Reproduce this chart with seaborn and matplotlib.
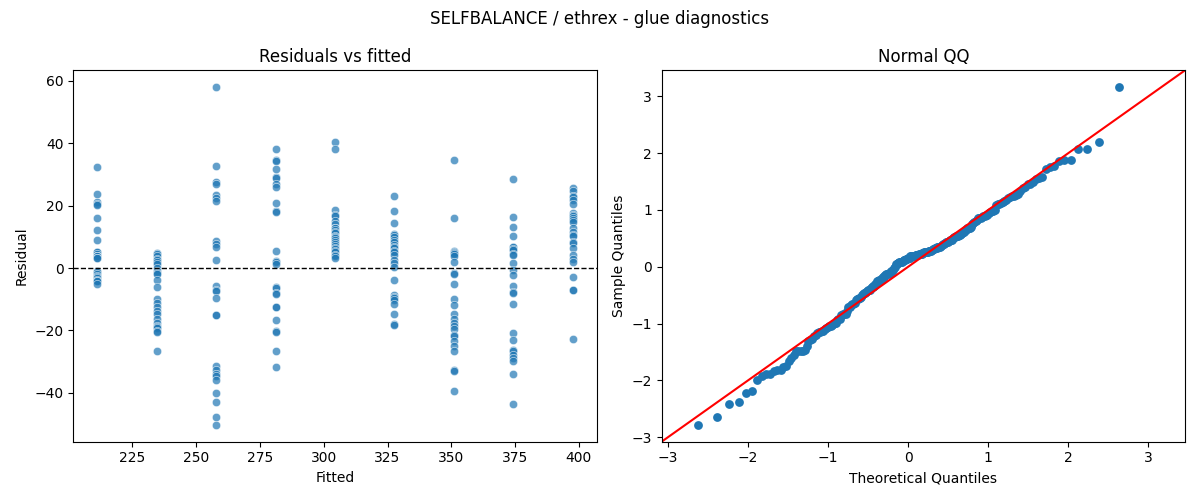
import statistics

import matplotlib
matplotlib.use("Agg")
import matplotlib.pyplot as plt
import numpy as np
import pandas as pd
import seaborn as sns

# fitted value of each level and the residuals
fitted_levels = [211.2, 234.5, 257.8, 281.1, 304.4, 327.7, 351.0, 374.3, 397.7]

res_g1 = [32.5, 23.7, 21.2, 20.4, 20.1, 16.0, 12.2, 9.0, 5.3, 5.0, 4.6, 4.0, 3.8, 3.7, 3.3,
          3.1, -1.0, -1.2, -1.9, -2.6, -2.9, -3.3, -3.8, -4.0, -4.3, -5.0]
res_g2 = [4.8, 4.6, 4.0, 3.0, 2.5, 2.0, 1.2, 0.1, -1.0, -1.7, -1.9, -3.7, -6.2, -9.9, -11.2,
          -12.5, -13.9, -14.6, -16.3, -17.6, -18.7, -18.9, -19.3, -20.3, -20.6, -26.6]
res_g3 = [58.0, 32.7, 27.5, 27.0, 23.5, 22.6, 21.6, 8.8, 7.7, 6.6, 2.6, -5.7, -7.2, -7.5,
          -9.6, -15.0, -15.2, -31.5, -32.8, -33.9, -34.7, -35.8, -40.1, -42.9, -47.8, -50.3]
res_g4 = [38.1, 34.7, 34.4, 31.7, 29.2, 28.8, 26.9, 25.9, 20.8, 18.3, 18.0, 5.4, 2.4, 2.0,
          1.4, -6.2, -6.4, -8.1, -8.4, -12.4, -12.6, -16.7, -20.3, -20.5, -26.6, -31.6]
res_g5 = [40.5, 38.1, 18.7, 17.0, 16.8, 15.2, 14.0, 13.0, 12.8, 12.3, 11.6, 11.2, 10.4,
          10.1, 9.6, 9.1, 8.2, 7.7, 7.2, 6.4, 6.1, 5.5, 5.0, 4.3, 4.0, 3.1]
res_g6 = [23.1, 18.3, 14.4, 11.0, 10.7, 10.1, 9.0, 8.5, 7.5, 6.9, 6.4, 5.6, 5.3, 4.3, 2.7,
          1.6, 0.3, -3.7, -8.8, -9.2, -9.6, -10.4, -11.5, -14.7, -18.1, -18.4]
res_g7 = [34.6, 16.0, 5.6, 5.3, 4.8, 4.5, 3.7, 1.9, -1.6, -1.9, -5.0, -9.8, -12.0, -14.7,
          -16.3, -17.6, -18.7, -19.6, -21.5, -21.8, -23.3, -25.1, -26.7, -32.6, -32.9, -39.3]
res_g8 = [28.6, 16.5, 13.1, 10.3, 6.9, 6.6, 6.1, 5.9, 4.6, 4.3, 1.6, -0.5, -2.1, -5.7, -7.8,
          -8.0, -11.5, -20.8, -23.2, -26.2, -26.5, -27.8, -28.8, -29.9, -34.0, -43.6]
res_g9 = [25.6, 24.6, 23.2, 22.9, 21.9, 20.6, 17.8, 17.1, 16.8, 16.0, 15.5, 14.7, 12.8,
          11.4, 10.5, 10.2, 8.2, 7.9, 6.4, 4.3, 2.9, 1.9, -2.9, -6.9, -7.2, -22.8]

groups = [res_g1, res_g2, res_g3, res_g4, res_g5, res_g6, res_g7, res_g8, res_g9]

df = pd.DataFrame({
    "fitted": np.concatenate([[f] * len(g) for f, g in zip(fitted_levels, groups)]),
    "resid": np.concatenate(groups),
})

# standardized residuals against normal quantiles (plotting position i/(n+1))
n = len(df)
sample_q = np.sort((df["resid"] - df["resid"].mean()) / df["resid"].std())
nd = statistics.NormalDist()
theo_q = np.array([nd.inv_cdf(i / (n + 1)) for i in range(1, n + 1)])
qq = pd.DataFrame({"theoretical": theo_q, "sample": sample_q})

fig, (ax1, ax2) = plt.subplots(1, 2, figsize=(12, 5), dpi=100)

sns.scatterplot(data=df, x="fitted", y="resid", alpha=0.7, ax=ax1)
ax1.axhline(0, color="black", linestyle="--", linewidth=1)
ax1.set_title("Residuals vs fitted")
ax1.set_xlabel("Fitted")
ax1.set_ylabel("Residual")

sns.scatterplot(data=qq, x="theoretical", y="sample", linewidth=0, s=40, ax=ax2)
ax2.margins(0.05)
fig.canvas.draw()
lo = min(ax2.get_xlim()[0], ax2.get_ylim()[0])
hi = max(ax2.get_xlim()[1], ax2.get_ylim()[1])
ax2.plot([lo, hi], [lo, hi], color="red", linewidth=1.5)
ax2.set_xlim(lo, hi)
ax2.set_ylim(lo, hi)
ax2.set_title("Normal QQ")
ax2.set_xlabel("Theoretical Quantiles")
ax2.set_ylabel("Sample Quantiles")

fig.suptitle("SELFBALANCE / ethrex - glue diagnostics")
fig.tight_layout()
fig.savefig("out.png")
